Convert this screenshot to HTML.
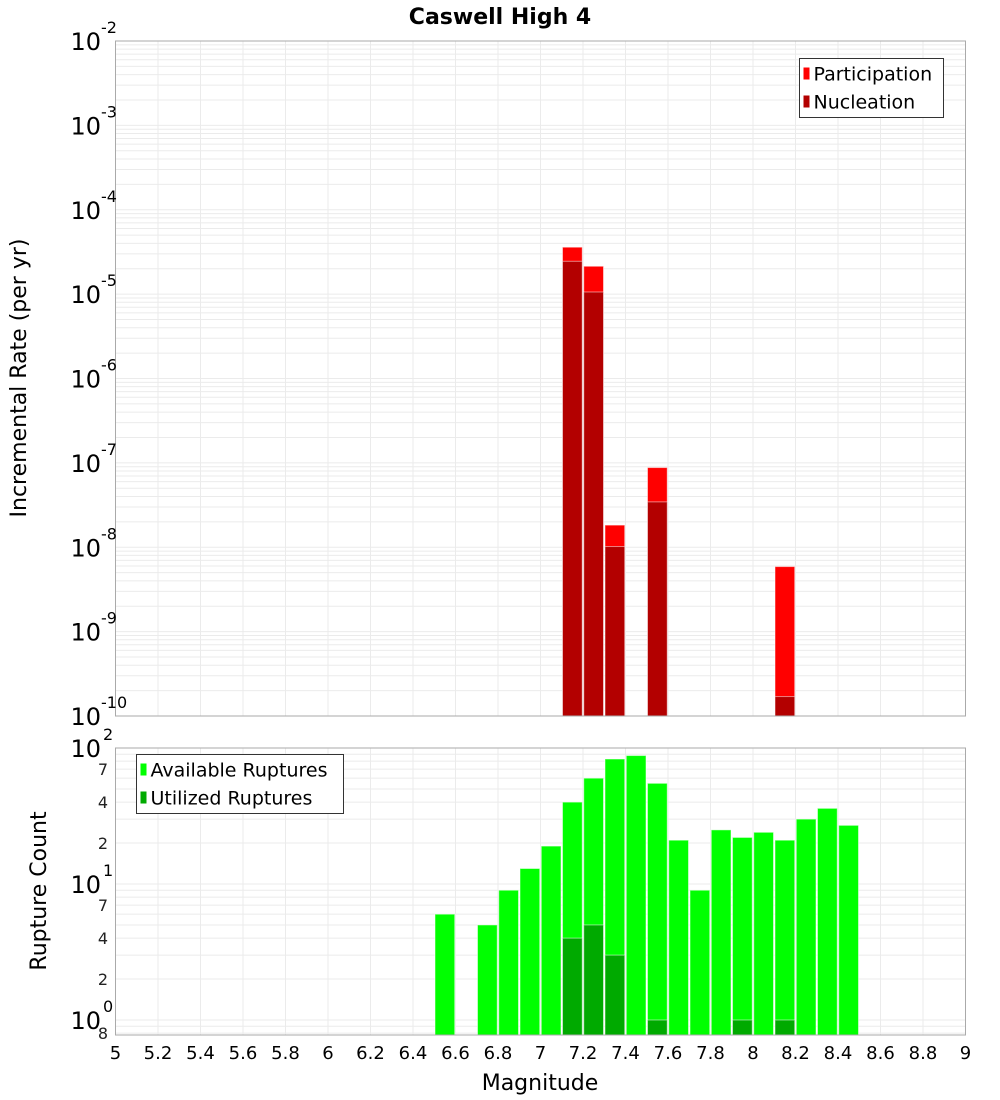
<!DOCTYPE html>
<html><head><meta charset="utf-8"><style>
body{margin:0;background:#fff;}
svg{display:block;font-family:"DejaVu Sans","Liberation Sans",sans-serif;}
</style></head><body>
<svg id="chart" width="1000" height="1100" viewBox="0 0 1000 1100" xmlns="http://www.w3.org/2000/svg">
<text x="500" y="24" text-anchor="middle" font-size="22" font-weight="bold">Caswell High 4</text>
<g id="topPlot"></g>
<g id="botPlot"></g>
<text transform="translate(26,378) rotate(-90)" text-anchor="middle" font-size="22">Incremental Rate (per yr)</text>
<text transform="translate(46,891) rotate(-90)" text-anchor="middle" font-size="22">Rupture Count</text>
<text x="540" y="1090" text-anchor="middle" font-size="22">Magnitude</text>
</svg>
<script>
const binCenters=[7.15,7.25,7.35,7.55,8.15];
const participation=[3.6e-5,2.14e-5,1.83e-8,8.8e-8,5.9e-9];
const nucleation=[2.45e-5,1.06e-5,1.02e-8,3.45e-8,1.7e-10];
const countBins=[6.55,6.75,6.85,6.95,7.05,7.15,7.25,7.35,7.45,7.55,7.65,7.75,7.85,7.95,8.05,8.15,8.25,8.35,8.45];
const available=[6,5,9,13,19,40,60,83,88,55,21,9,25,22,24,21,30,36,27];
const utilizedBins=[7.15,7.25,7.35,7.55,7.95,8.15];
const utilized=[4,5,3,1,1,1];
const xTicks=[5,5.2,5.4,5.6,5.8,6,6.2,6.4,6.6,6.8,7,7.2,7.4,7.6,7.8,8,8.2,8.4,8.6,8.8,9];
const topDecades=[-2,-3,-4,-5,-6,-7,-8,-9,-10];
const botMinorLabels=[[70,"7"],[40,"4"],[20,"2"],[7,"7"],[4,"4"],[2,"2"],[0.8,"8"]];

const NS="http://www.w3.org/2000/svg";
function mk(p,t,a){const e=document.createElementNS(NS,t);for(const k in a)e.setAttribute(k,a[k]);p.appendChild(e);return e;}
const X0=115.5,X1=965.5;
const xs=v=>X0+(v-5)/4*(X1-X0);
const TY0=41,TY1=716;
const ty=v=>TY0+(-2-Math.log10(v))*(TY1-TY0)/8;
const BY0=748,BY1=1035;
const byD=136, by=v=>884-Math.log10(v/10)*byD;
const topG=document.getElementById('topPlot'),botG=document.getElementById('botPlot');

function grid(g,y0,y1,yfn,lo,hi){
  for(const t of xTicks){const l=mk(g,'line',{x1:xs(t),x2:xs(t),y1:y0,y2:y1,stroke:'#ebebeb','stroke-width':1});
  
  }
  for(let d=lo;d<hi;d++)for(let m=1;m<10;m++){const v=m*Math.pow(10,d);const y=yfn(v);if(y<y0-0.5||y>y1+0.5)continue;
    const l=mk(g,'line',{x1:X0,x2:X1,y1:y,y2:y,stroke:'#ebebeb','stroke-width':1});
    
    }
}
grid(topG,TY0,TY1,ty,-10,-2);
grid(botG,BY0,BY1,by,-1,2);

const bw=xs(5.1)-xs(5)-1.5;
function bar(g,c,v,yfn,ybase,fill,name){
  const y=yfn(v);const r=mk(g,'rect',{x:xs(c-0.05)+0.75,y:y,width:bw,height:ybase-y,fill:fill,stroke:'rgba(255,255,255,0.5)','stroke-width':1});
  
  
}
binCenters.forEach((c,i)=>bar(topG,c,participation[i],ty,TY1,'#ff0000','participation-bar'));
binCenters.forEach((c,i)=>bar(topG,c,nucleation[i],ty,TY1,'#b30000','nucleation-bar'));
countBins.forEach((c,i)=>bar(botG,c,available[i],by,BY1,'#00ff00','available-bar'));
utilizedBins.forEach((c,i)=>bar(botG,c,utilized[i],by,BY1,'#00aa00','utilized-bar'));

for(const [g,y0,y1,n] of [[topG,TY0,TY1,'rate-plot-border'],[botG,BY0,BY1,'count-plot-border']]){
  const r=mk(g,'rect',{x:X0,y:y0,width:X1-X0,height:y1-y0,fill:'none',stroke:'#aaaaaa','stroke-width':1});
  
  
}
for(const d of topDecades){const y=ty(Math.pow(10,d));
  const t=mk(topG,'text',{x:101,y:y+9,'text-anchor':'end','font-size':24});t.textContent='10';
  
  
  const s=mk(topG,'text',{x:101,y:y-8,'text-anchor':'start','font-size':16});s.textContent=String(d);
  
  }
for(const d of [2,1,0]){const y=by(Math.pow(10,d));
  const t=mk(botG,'text',{x:101,y:y+9,'text-anchor':'end','font-size':24});t.textContent='10';
  
  
  const s=mk(botG,'text',{x:103,y:y-8,'text-anchor':'start','font-size':16});s.textContent=String(d);
  
  }
for(const [v,l] of botMinorLabels){const t=mk(botG,'text',{x:108,y:by(v)+6,'text-anchor':'end','font-size':16,fill:'#222'});t.textContent=l;
  
  }
for(const v of xTicks){const t=mk(botG,'text',{x:xs(v),y:1059,'text-anchor':'middle','font-size':18});t.textContent=String(v);
  
  }
function legend(g,x,y,w,h,items,name){
  const lg=mk(g,'g',{});
  
  
  mk(lg,'rect',{x:x,y:y,width:w,height:h,fill:'#fff',stroke:'#333','stroke-width':1});
  items.forEach((it,i)=>{const cy=y+15+i*28;
    const sw=mk(lg,'rect',{x:x+4,y:cy-6,width:6,height:12,fill:it[1]});
    
    
    const t=mk(lg,'text',{x:x+14,y:cy+7,'font-size':19});t.textContent=it[0];
    
    });
}
legend(topG,799.5,58.5,144,59,[['Participation','#ff0000'],['Nucleation','#b30000']],'rate-legend');
legend(botG,136.5,754.5,207,59,[['Available Ruptures','#00ff00'],['Utilized Ruptures','#00aa00']],'count-legend');
</script>
</body></html>
